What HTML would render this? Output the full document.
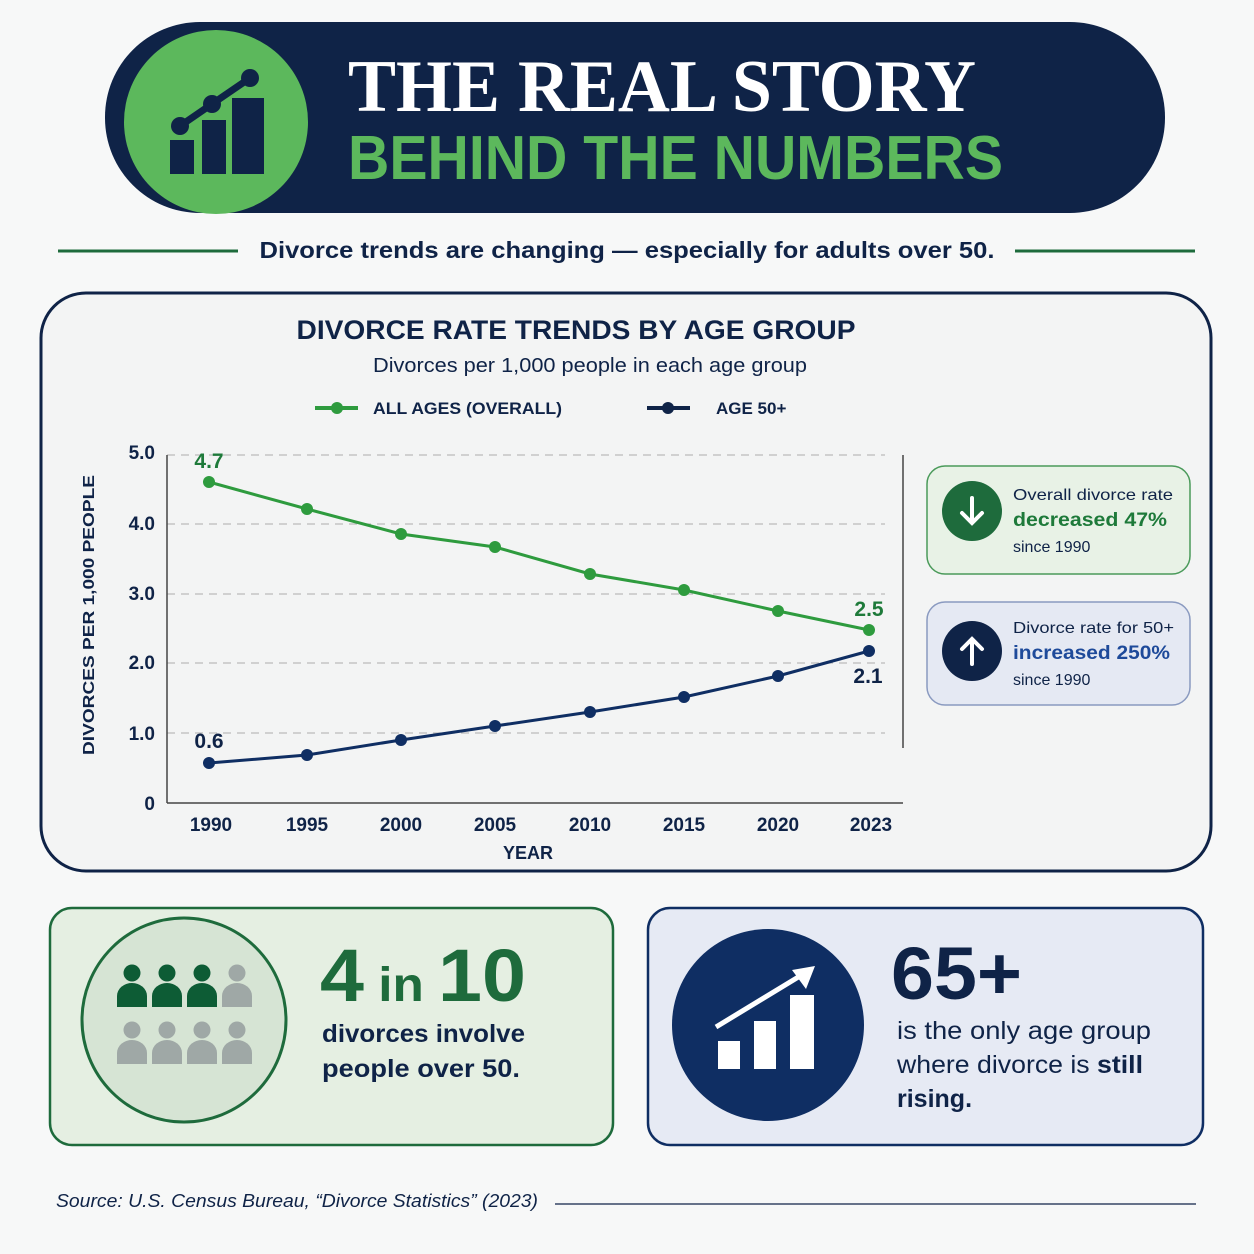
<!DOCTYPE html>
<html><head><meta charset="utf-8"><style>
body{margin:0;background:#f7f8f8}
svg{display:block}
</style></head><body>
<svg width="1254" height="1254" viewBox="0 0 1254 1254" xmlns="http://www.w3.org/2000/svg" font-family="Liberation Sans, sans-serif">
<rect width="1254" height="1254" fill="#f7f8f8"/>
<rect x="105" y="22" width="1060" height="191" rx="95" fill="#0f2347"/>
<circle cx="216" cy="122" r="92" fill="#5cb85c"/>
<g fill="#0f2347">
<rect x="170" y="140" width="24" height="34"/><rect x="202" y="120" width="24" height="54"/><rect x="232" y="98" width="32" height="76"/>
<polyline points="180,126 212,104 250,78" fill="none" stroke="#0f2347" stroke-width="7"/>
<circle cx="180" cy="126" r="9"/><circle cx="212" cy="104" r="9"/><circle cx="250" cy="78" r="9"/>
</g>
<text x="348" y="111" style="font-family:'Liberation Serif',serif" font-weight="bold" font-size="74" fill="#fff" textLength="628" lengthAdjust="spacingAndGlyphs">THE REAL STORY</text>
<text x="348" y="179" font-weight="bold" font-size="62" fill="#5cb85c" textLength="655" lengthAdjust="spacingAndGlyphs">BEHIND THE NUMBERS</text>
<line x1="58" y1="251" x2="238" y2="251" stroke="#1e6b3c" stroke-width="3"/>
<line x1="1015" y1="251" x2="1195" y2="251" stroke="#1e6b3c" stroke-width="3"/>
<text x="627" y="258" text-anchor="middle" font-weight="bold" font-size="23" fill="#0f2347" textLength="735" lengthAdjust="spacingAndGlyphs">Divorce trends are changing — especially for adults over 50.</text>
<rect x="41" y="293" width="1170" height="578" rx="45" fill="#f3f4f4" stroke="#0f2347" stroke-width="3"/>
<text x="576" y="339" text-anchor="middle" font-weight="bold" font-size="27" fill="#0f2347" textLength="559" lengthAdjust="spacingAndGlyphs">DIVORCE RATE TRENDS BY AGE GROUP</text>
<text x="590" y="372" text-anchor="middle" font-size="20" fill="#0f2347" textLength="434" lengthAdjust="spacingAndGlyphs">Divorces per 1,000 people in each age group</text>
<line x1="315" y1="408" x2="358" y2="408" stroke="#2e9b3e" stroke-width="4"/><circle cx="337" cy="408" r="6" fill="#2e9b3e"/>
<text x="373" y="414" font-weight="bold" font-size="17" fill="#0f2347" textLength="189" lengthAdjust="spacingAndGlyphs">ALL AGES (OVERALL)</text>
<line x1="647" y1="408" x2="690" y2="408" stroke="#0f2347" stroke-width="4"/><circle cx="668" cy="408" r="6" fill="#0f2347"/>
<text x="716" y="414" font-weight="bold" font-size="17" fill="#0f2347">AGE 50+</text>
<g stroke="#bbb" stroke-width="1.3" stroke-dasharray="8,6">
<line x1="167" y1="455" x2="885" y2="455"/><line x1="167" y1="524" x2="885" y2="524"/><line x1="167" y1="594" x2="885" y2="594"/><line x1="167" y1="663" x2="885" y2="663"/><line x1="167" y1="733" x2="885" y2="733"/>
</g>
<line x1="167" y1="455" x2="167" y2="803" stroke="#444" stroke-width="1.5"/>
<line x1="167" y1="803" x2="903" y2="803" stroke="#444" stroke-width="1.5"/>
<line x1="903" y1="455" x2="903" y2="748" stroke="#444" stroke-width="1.5"/>
<g font-weight="bold" font-size="19" fill="#0f2347" text-anchor="end">
<text x="155" y="459">5.0</text><text x="155" y="530">4.0</text><text x="155" y="600">3.0</text><text x="155" y="669">2.0</text><text x="155" y="740">1.0</text><text x="155" y="810">0</text>
</g>
<g font-weight="bold" font-size="19" fill="#0f2347" text-anchor="middle">
<text x="211" y="831">1990</text><text x="307" y="831">1995</text><text x="401" y="831">2000</text><text x="495" y="831">2005</text><text x="590" y="831">2010</text><text x="684" y="831">2015</text><text x="778" y="831">2020</text><text x="871" y="831">2023</text>
<text x="528" y="859" font-size="18">YEAR</text>
</g>
<text transform="translate(94,615) rotate(-90)" text-anchor="middle" font-weight="bold" font-size="16" fill="#0f2347" textLength="280" lengthAdjust="spacingAndGlyphs">DIVORCES PER 1,000 PEOPLE</text>
<polyline points="209,482 307,509 401,534 495,547 590,574 684,590 778,611 869,630" fill="none" stroke="#2e9b3e" stroke-width="3"/>
<g fill="#2e9b3e"><circle cx="209" cy="482" r="6"/><circle cx="307" cy="509" r="6"/><circle cx="401" cy="534" r="6"/><circle cx="495" cy="547" r="6"/><circle cx="590" cy="574" r="6"/><circle cx="684" cy="590" r="6"/><circle cx="778" cy="611" r="6"/><circle cx="869" cy="630" r="6"/></g>
<polyline points="209,763 307,755 401,740 495,726 590,712 684,697 778,676 869,651" fill="none" stroke="#0f2e63" stroke-width="3"/>
<g fill="#0f2e63"><circle cx="209" cy="763" r="6"/><circle cx="307" cy="755" r="6"/><circle cx="401" cy="740" r="6"/><circle cx="495" cy="726" r="6"/><circle cx="590" cy="712" r="6"/><circle cx="684" cy="697" r="6"/><circle cx="778" cy="676" r="6"/><circle cx="869" cy="651" r="6"/></g>
<g font-weight="bold" font-size="21" text-anchor="middle">
<text x="209" y="468" fill="#1e7a3a">4.7</text><text x="869" y="616" fill="#1e7a3a">2.5</text>
<text x="209" y="748" fill="#0f2347">0.6</text><text x="868" y="683" fill="#0f2347">2.1</text>
</g>
<rect x="927" y="466" width="263" height="108" rx="18" fill="#e8f2e6" stroke="#4a9a5a" stroke-width="1.5"/>
<circle cx="972" cy="511" r="30" fill="#1e6b3c"/>
<path d="M972 498 V522 M962 513 L972 523 L982 513" stroke="#fff" stroke-width="4" fill="none" stroke-linecap="round"/>
<text x="1013" y="500" font-size="16" fill="#0f2347" textLength="160" lengthAdjust="spacingAndGlyphs">Overall divorce rate</text>
<text x="1013" y="526" font-size="19" font-weight="bold" fill="#1e7a3a" textLength="154" lengthAdjust="spacingAndGlyphs">decreased 47%</text>
<text x="1013" y="552" font-size="16" fill="#0f2347">since 1990</text>
<rect x="927" y="602" width="263" height="103" rx="18" fill="#e5e9f3" stroke="#8a9ac0" stroke-width="1.5"/>
<circle cx="972" cy="651" r="30" fill="#0f2347"/>
<path d="M972 664 V640 M962 649 L972 639 L982 649" stroke="#fff" stroke-width="4" fill="none" stroke-linecap="round"/>
<text x="1013" y="633" font-size="16" fill="#0f2347" textLength="161" lengthAdjust="spacingAndGlyphs">Divorce rate for 50+</text>
<text x="1013" y="659" font-size="19" font-weight="bold" fill="#1e4a9a" textLength="157" lengthAdjust="spacingAndGlyphs">increased 250%</text>
<text x="1013" y="685" font-size="16" fill="#0f2347">since 1990</text>
<rect x="50" y="908" width="563" height="237" rx="22" fill="#e5efe2" stroke="#1e6b3c" stroke-width="2.5"/>
<circle cx="184" cy="1020" r="102" fill="#d6e4d4" stroke="#1e6b3c" stroke-width="3"/>
<g fill="#0d5c35">
<circle cx="132" cy="973" r="8.5"/><path d="M117 1007 V996 a15 13 0 0 1 30 0 V1007 Z"/>
<circle cx="167" cy="973" r="8.5"/><path d="M152 1007 V996 a15 13 0 0 1 30 0 V1007 Z"/>
<circle cx="202" cy="973" r="8.5"/><path d="M187 1007 V996 a15 13 0 0 1 30 0 V1007 Z"/>
</g>
<g fill="#9fa8a6">
<circle cx="237" cy="973" r="8.5"/><path d="M222 1007 V996 a15 13 0 0 1 30 0 V1007 Z"/>
<circle cx="132" cy="1030" r="8.5"/><path d="M117 1064 V1053 a15 13 0 0 1 30 0 V1064 Z"/>
<circle cx="167" cy="1030" r="8.5"/><path d="M152 1064 V1053 a15 13 0 0 1 30 0 V1064 Z"/>
<circle cx="202" cy="1030" r="8.5"/><path d="M187 1064 V1053 a15 13 0 0 1 30 0 V1064 Z"/>
<circle cx="237" cy="1030" r="8.5"/><path d="M222 1064 V1053 a15 13 0 0 1 30 0 V1064 Z"/>
</g>
<text x="320" y="1001" font-weight="bold" fill="#1e6b3c" textLength="206" lengthAdjust="spacingAndGlyphs"><tspan font-size="74">4</tspan><tspan font-size="48"> in </tspan><tspan font-size="74">10</tspan></text>
<text x="322" y="1042" font-weight="bold" font-size="25" fill="#0f2347" textLength="203" lengthAdjust="spacingAndGlyphs">divorces involve</text>
<text x="322" y="1077" font-weight="bold" font-size="25" fill="#0f2347" textLength="198" lengthAdjust="spacingAndGlyphs">people over 50.</text>
<rect x="648" y="908" width="555" height="237" rx="22" fill="#e6eaf4" stroke="#0f2e63" stroke-width="2.5"/>
<circle cx="768" cy="1025" r="96" fill="#0f2e63"/>
<g fill="#fff"><rect x="718" y="1041" width="22" height="28"/><rect x="754" y="1021" width="22" height="48"/><rect x="790" y="995" width="24" height="74"/></g>
<path d="M716 1027 L800 976" stroke="#fff" stroke-width="5"/><path d="M815 966 L792 970 L806 989 Z" fill="#fff"/>
<text x="891" y="999" font-weight="bold" font-size="74" fill="#0f2347" textLength="131" lengthAdjust="spacingAndGlyphs">65+</text>
<text x="897" y="1039" font-size="25" fill="#0f2347" textLength="254" lengthAdjust="spacingAndGlyphs">is the only age group</text>
<text x="897" y="1073" font-size="25" fill="#0f2347" textLength="246" lengthAdjust="spacingAndGlyphs">where divorce is <tspan font-weight="bold">still</tspan></text>
<text x="897" y="1107" font-size="25" font-weight="bold" fill="#0f2347">rising.</text>
<text x="56" y="1207" font-style="italic" font-size="18" fill="#0f2347" textLength="482" lengthAdjust="spacingAndGlyphs">Source: U.S. Census Bureau, “Divorce Statistics” (2023)</text>
<line x1="555" y1="1204" x2="1196" y2="1204" stroke="#0f2347" stroke-width="1.2"/>
</svg>
</body></html>
